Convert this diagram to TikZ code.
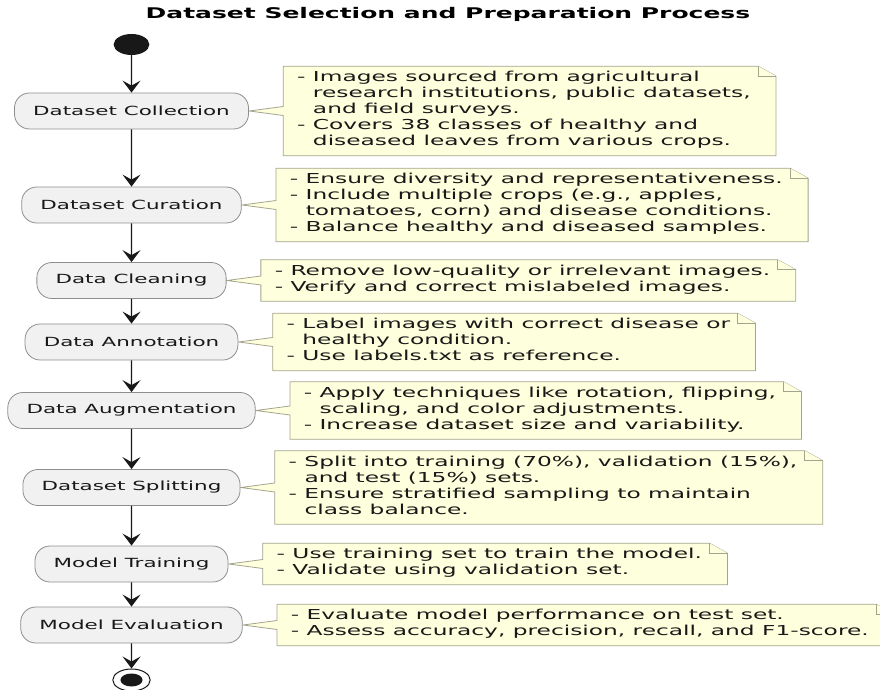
\documentclass[tikz,border=0pt]{standalone}
\usepackage{fontspec}
\setmainfont{DejaVu Sans}
\usetikzlibrary{calc, backgrounds, arrows.meta}

\definecolor{ink}{HTML}{181818}
\definecolor{actfill}{HTML}{F1F1F1}
\definecolor{actbd}{HTML}{8E8E8E}
\definecolor{notefill}{HTML}{FEFFDD}
\definecolor{notebd}{HTML}{A4A48E}

\newcommand{\indt}{\hphantom{- }}
\newcommand{\notepath}[2]{%
  \filldraw[noteline] ($(#1.south west)+(-8,0)$) -- ($(#1.west)+(-8,4.5)$) -- (#2.east)
    -- ($(#1.west)+(-8,-4.5)$) -- ($(#1.north west)+(-8,0)$) -- ($(#1.north east)+(4.1,0)$)
    -- ($(#1.north east)+(14.7,10)$) -- ($(#1.south east)+(14.7,0)$) -- cycle;
  \draw[noteline] ($(#1.north east)+(4.1,0)$) -- ($(#1.north east)+(4.1,10)$) -- ($(#1.north east)+(14.7,10)$);}

\begin{document}
\begin{tikzpicture}[x=1pt, y=-1pt, xscale=1.7, transform shape, >={Stealth[length=12pt, width=18pt, inset=5pt]},
  act/.style={rectangle, rounded corners=15pt, draw=actbd, line width=0.8pt, fill=actfill, minimum height=36pt, inner xsep=11pt, text=ink, font=\fontsize{12.6}{15}\selectfont},
  notetext/.style={anchor=west, align=left, inner xsep=0pt, inner ysep=5pt, text=ink, font=\fontsize{13.7}{16}\selectfont, execute at begin node=\strut, execute at end node=\strut},
  noteline/.style={draw=notebd, fill=notefill, line width=0.8pt},
  flow/.style={->, draw=ink, line width=1.3pt}]
\useasboundingbox (0,0) rectangle (517.65,690);

\node[font=\fontsize{14.7}{17}\selectfont\bfseries] (title) at (263.5,14.5) {Dataset Selection and Preparation Process};

\node[circle, fill=ink, minimum size=21pt, inner sep=0pt] (start) at (77.35,44.5) {};
\node[act] (coll) at (77.35,111) {Dataset Collection};
\node[act] (cur) at (77.35,205) {Dataset Curation};
\node[act] (clean) at (77.35,280.5) {Data Cleaning};
\node[act] (annot) at (77.35,342) {Data Annotation};
\node[act] (aug) at (77.35,410.5) {Data Augmentation};
\node[act] (split) at (77.35,487.5) {Dataset Splitting};
\node[act] (train) at (77.35,564) {Model Training};
\node[act] (eval) at (77.35,625) {Model Evaluation};
\node[circle, draw=ink, line width=1pt, minimum size=22pt, inner sep=0pt] (stop) at (77.35,680) {};
\node[circle, fill=ink, minimum size=13pt, inner sep=0pt] (stopdot) at (stop) {};

\draw[flow] (start) -- (coll);
\draw[flow] (coll) -- (cur);
\draw[flow] (cur) -- (clean);
\draw[flow] (clean) -- (annot);
\draw[flow] (annot) -- (aug);
\draw[flow] (aug) -- (split);
\draw[flow] (split) -- (train);
\draw[flow] (train) -- (eval);
\draw[flow] (eval) -- (stop);

\node[notetext] (n1) at ($(coll.east)+(28,0)$) {- Images sourced from agricultural\\ \indt research institutions, public datasets,\\ \indt and field surveys.\\ - Covers 38 classes of healthy and\\ \indt diseased leaves from various crops.};
\node[notetext] (n2) at ($(cur.east)+(28,0)$) {- Ensure diversity and representativeness.\\ - Include multiple crops (e.g., apples,\\ \indt tomatoes, corn) and disease conditions.\\ - Balance healthy and diseased samples.};
\node[notetext] (n3) at ($(clean.east)+(28,0)$) {- Remove low-quality or irrelevant images.\\ - Verify and correct mislabeled images.};
\node[notetext] (n4) at ($(annot.east)+(28,0)$) {- Label images with correct disease or\\ \indt healthy condition.\\ - Use labels.txt as reference.};
\node[notetext] (n5) at ($(aug.east)+(28,0)$) {- Apply techniques like rotation, flipping,\\ \indt scaling, and color adjustments.\\ - Increase dataset size and variability.};
\node[notetext] (n6) at ($(split.east)+(28,0)$) {- Split into training (70\%), validation (15\%),\\ \indt and test (15\%) sets.\\ - Ensure stratified sampling to maintain\\ \indt class balance.};
\node[notetext] (n7) at ($(train.east)+(28,0)$) {- Use training set to train the model.\\ - Validate using validation set.};
\node[notetext] (n8) at ($(eval.east)+(28,0)$) {- Evaluate model performance on test set.\\ - Assess accuracy, precision, recall, and F1-score.};

\begin{scope}[on background layer]
\notepath{n1}{coll}
\notepath{n2}{cur}
\notepath{n3}{clean}
\notepath{n4}{annot}
\notepath{n5}{aug}
\notepath{n6}{split}
\notepath{n7}{train}
\notepath{n8}{eval}
\end{scope}
\end{tikzpicture}
\end{document}
